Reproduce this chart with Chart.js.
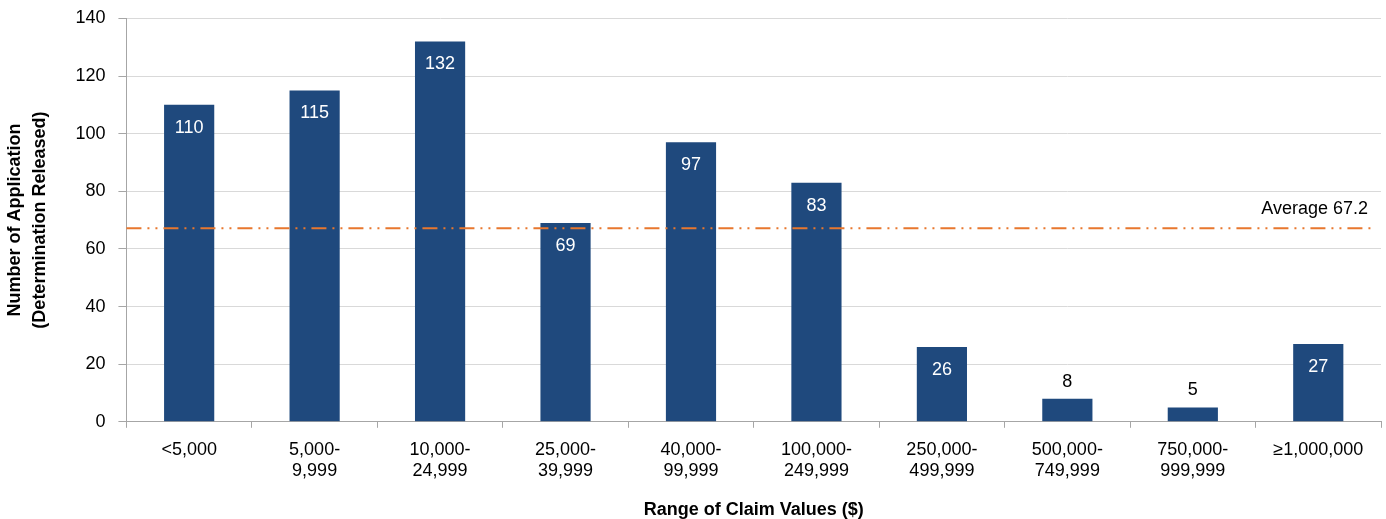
<!doctype html>
<html>
<head>
	<meta charset="UTF-8">
	<title>Range of Claim Values</title>
	<script src="https://cdn.jsdelivr.net/npm/chart.js@4/dist/chart.umd.min.js"></script>
	<style>
		html, body { margin: 0; padding: 0; background: #fff; }
		#holder { width: 1386px; height: 519px; }
	</style>
</head>
<body>
<div id="holder">
	<canvas id="chart-area"></canvas>
</div>
<script>
	// categories and values
	var categories = [
		['<5,000'], ['5,000-', '9,999'], ['10,000-', '24,999'], ['25,000-', '39,999'],
		['40,000-', '99,999'], ['100,000-', '249,999'], ['250,000-', '499,999'],
		['500,000-', '749,999'], ['750,000-', '999,999'], ['\u22651,000,000']
	];
	var applications = [110, 115, 132, 69, 97, 83, 26, 8, 5, 27];
	var average = 67.2;
	var yTicks = [0, 20, 40, 60, 80, 100, 120, 140];

	var FONT = "'Liberation Sans', Arial, sans-serif";

	// value labels: white inside the bar, black above when bar is short
	var barLabels = {
		id: 'barLabels',
		afterDatasetsDraw: function (chart) {
			var ctx = chart.ctx;
			var meta = chart.getDatasetMeta(0);
			ctx.save();
			ctx.font = '18px ' + FONT;
			ctx.textAlign = 'center';
			ctx.textBaseline = 'middle';
			meta.data.forEach(function (bar, i) {
				var v = applications[i];
				var h = bar.base - bar.y;
				if (h > 25) {
					ctx.fillStyle = '#ffffff';
					ctx.fillText(v, bar.x, bar.y + 23);
				} else {
					ctx.fillStyle = '#000000';
					ctx.fillText(v, bar.x, bar.y - 17);
				}
			});
			ctx.restore();
		}
	};

	// dash-dot-dot average line
	var avgLine = {
		id: 'avgLine',
		afterDatasetsDraw: function (chart) {
			var ctx = chart.ctx;
			var area = chart.chartArea;
			var y = chart.scales.y.getPixelForValue(average);
			ctx.save();
			ctx.strokeStyle = '#e8772e';
			ctx.lineWidth = 2;
			ctx.setLineDash([15, 6, 2, 6, 2, 6]);
			ctx.beginPath();
			ctx.moveTo(area.left, y);
			ctx.lineTo(area.right - 9, y);
			ctx.stroke();
			ctx.setLineDash([]);
			ctx.font = '18px ' + FONT;
			ctx.fillStyle = '#000000';
			ctx.textAlign = 'right';
			ctx.textBaseline = 'middle';
			ctx.fillText('Average ' + average, area.right - 13, y - 19);
			ctx.restore();
		}
	};

	var config = {
		type: 'bar',
		data: {
			labels: categories,
			datasets: [{
				data: applications,
				backgroundColor: '#1f497d',
				categoryPercentage: 1,
				barPercentage: 0.4
			}]
		},
		options: {
			responsive: true,
			maintainAspectRatio: false,
			animation: false,
			layout: { padding: { top: 0, right: 5, bottom: 0, left: 0 } },
			plugins: {
				legend: { display: false },
				tooltip: { enabled: false }
			},
			scales: {
				x: {
					offset: true,
					grid: {
						offset: true,
						drawOnChartArea: false,
						color: '#a6a6a6',
						tickLength: 6
					},
					border: { color: '#a6a6a6' },
					ticks: {
						color: '#000',
						font: { family: FONT, size: 18, lineHeight: 1.2 },
						maxRotation: 0,
						autoSkip: false,
						padding: 11
					},
					title: {
						display: true,
						text: 'Range of Claim Values ($)',
						color: '#000',
						font: { family: FONT, size: 18, weight: 'bold', lineHeight: 1 },
						padding: { top: 8, bottom: 0 }
					}
				},
				y: {
					min: 0,
					max: 140,
					afterBuildTicks: function (axis) {
						axis.ticks = yTicks.map(function (v) { return { value: v }; });
					},
					grid: {
						color: '#d9d9d9',
						tickColor: '#a6a6a6',
						tickLength: 8
					},
					border: { color: '#a6a6a6' },
					ticks: {
						color: '#000',
						font: { family: FONT, size: 18, lineHeight: 0.6 },
						padding: 13
					},
					title: {
						display: true,
						text: ['Number of Application', '(Determination Released)'],
						color: '#000',
						font: { family: FONT, size: 18, weight: 'bold', lineHeight: 1.4 },
						padding: { top: 2, bottom: 10 }
					}
				}
			}
		},
		plugins: [avgLine, barLabels]
	};

	var ctx = document.getElementById('chart-area').getContext('2d');
	window.myBar = new Chart(ctx, config);
</script>
</body>
</html>
